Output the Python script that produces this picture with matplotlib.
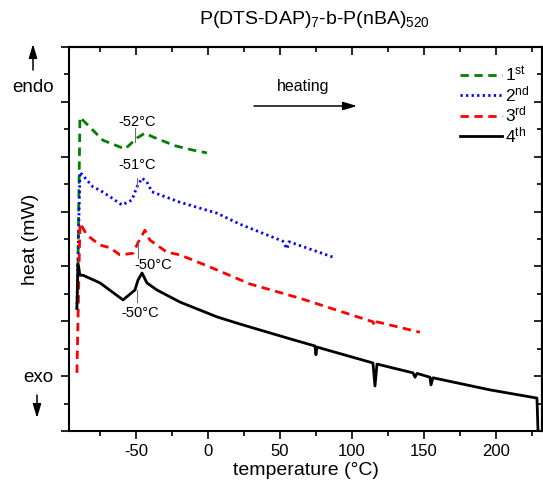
import matplotlib
matplotlib.use("Agg")
import matplotlib.pyplot as plt
from matplotlib.ticker import MultipleLocator, NullFormatter

plt.rcParams['font.family'] = ['Liberation Sans', 'DejaVu Sans']
plt.rcParams['mathtext.fontset'] = 'custom'
plt.rcParams['mathtext.rm'] = 'Liberation Sans'
plt.rcParams['mathtext.it'] = 'Liberation Sans:italic'
plt.rcParams['axes.unicode_minus'] = False

# DSC heating runs: temperature (°C) vs. heat flow (arbitrary offset units)
t1 = [-90.3, -88.9, -72.9, -57.6, -49.3, -43.8, -38.2, -22.9, -10.4, -0.7]
h1 = [2.99, 5.72, 5.30, 5.14, 5.34, 5.43, 5.36, 5.20, 5.12, 5.07]

t2 = [-91.0, -88.9, -79.9, -75.0, -68.0, -59.7, -52.8, -49.3, -45.8, -42.4,
      -38.9, -19.4, 6.3, 22.2, 52.0, 54.9, 56.3, 86.8]
h2 = [2.21, 4.72, 4.45, 4.39, 4.27, 4.12, 4.21, 4.45, 4.61, 4.54,
      4.36, 4.17, 3.97, 3.77, 3.46, 3.32, 3.45, 3.17]

t3 = [-91.0, -88.9, -84.0, -75.0, -68.0, -61.1, -52.1, -48.6, -43.8, -40.3,
      -28.5, -19.4, 1.4, 29.2, 63.9, 114.6, 116.0, 117.4, 147.2]
h3 = [1.06, 3.79, 3.57, 3.39, 3.34, 3.21, 3.24, 3.43, 3.66, 3.48,
      3.26, 3.21, 2.99, 2.68, 2.42, 1.99, 1.91, 1.99, 1.80]

t4 = [-91.0, -90.3, -88.9, -86.8, -75.0, -59.0, -50.7, -48.6, -45.8, -42.4,
      -35.4, -19.4, 6.3, 22.2, 57.0, 74.3, 75.0, 75.7, 114.6, 116.0, 117.4,
      142.4, 143.8, 145.2, 154.2, 154.9, 156.3, 195.8, 228.5, 229.2]
h4 = [2.24, 3.03, 2.84, 2.84, 2.70, 2.39, 2.57, 2.75, 2.88, 2.70,
      2.57, 2.35, 2.08, 1.95, 1.68, 1.55, 1.39, 1.53, 1.24, 0.82, 1.22,
      1.06, 0.98, 1.05, 0.98, 0.84, 0.97, 0.75, 0.60, 0.02]

run_labels = [r'1$^{\mathrm{st}}$', r'2$^{\mathrm{nd}}$', r'3$^{\mathrm{rd}}$', r'4$^{\mathrm{th}}$']

# Glass transition marks: label, marker x, marker y range, text position
tg_labels = ['-52°C', '-51°C', '-50°C', '-50°C']
tg_x = [-50.7, -49.3, -48.6, -49.3]
tg_y0 = [5.27, 4.45, 3.15, 2.35]
tg_y1 = [5.52, 4.61, 3.45, 2.57]
tg_tx = [-49.3, -49.5, -38.2, -47.2]
tg_ty = [5.63, 4.85, 3.03, 2.15]

fig = plt.figure(figsize=(5.43, 4.91), dpi=100)
ax = fig.add_axes([69 / 543, 1 - 431 / 491, 473 / 543, 384 / 491])

lw = 2.0
ax.plot(t1, h1, color='#008000', lw=lw, dashes=(3, 2), label=run_labels[0])
ax.plot(t2, h2, color='#0000ff', lw=lw, dashes=(0.8, 1.2), label=run_labels[1])
ax.plot(t3, h3, color='#ff0000', lw=lw, dashes=(3, 2), label=run_labels[2])
ax.plot(t4, h4, color='black', lw=lw, label=run_labels[3])

for lab, x, y0, y1, tx, ty in zip(tg_labels, tg_x, tg_y0, tg_y1, tg_tx, tg_ty):
    ax.plot([x, x], [y0, y1], color='#707070', lw=0.8)
    ax.text(tx, ty, lab, fontsize=10.5, ha='center', va='center')

ax.set_xlim(-96.5, 232)
ax.set_ylim(0, 7)

ax.xaxis.set_major_locator(MultipleLocator(50))
ax.xaxis.set_minor_locator(MultipleLocator(25))
ax.yaxis.set_major_locator(MultipleLocator(1))
ax.yaxis.set_minor_locator(MultipleLocator(0.5))
ax.yaxis.set_major_formatter(NullFormatter())

ax.tick_params(which='major', direction='out', length=6, width=1.2, labelsize=12)
ax.tick_params(which='minor', direction='out', length=3.5, width=1.2)
for s in ax.spines.values():
    s.set_linewidth(1.5)

# Mirrored inward ticks on top and right
top = ax.secondary_xaxis('top')
top.xaxis.set_major_locator(MultipleLocator(50))
top.xaxis.set_minor_locator(MultipleLocator(25))
top.xaxis.set_major_formatter(NullFormatter())
top.tick_params(which='major', direction='in', length=6, width=1.2)
top.tick_params(which='minor', direction='in', length=3.5, width=1.2)
right = ax.secondary_yaxis('right')
right.yaxis.set_major_locator(MultipleLocator(1))
right.yaxis.set_minor_locator(MultipleLocator(0.5))
right.yaxis.set_major_formatter(NullFormatter())
right.tick_params(which='major', direction='in', length=6, width=1.2)
right.tick_params(which='minor', direction='in', length=3.5, width=1.2)
for sec in (top, right):
    for s in sec.spines.values():
        s.set_linewidth(1.5)

ax.set_xlabel('temperature (°C)', fontsize=14, labelpad=2)
ax.set_ylabel('heat (mW)', fontsize=14, labelpad=12)
fig.text(0.58, 1 - 19 / 491, r'P(DTS-DAP)$_7$-b-P(nBA)$_{520}$', fontsize=14,
         ha='center', va='center')

leg = ax.legend(loc='upper left', bbox_to_anchor=(0.813, 0.972), frameon=False,
                fontsize=12.5, handlelength=2.4, handletextpad=0.15,
                labelspacing=0.02, borderaxespad=0)

# endo / exo markers and heating direction
fig.text(33 / 543, 1 - 88 / 491, 'endo', fontsize=13.5, ha='center', va='center')
fig.text(38 / 543, 1 - 377 / 491, 'exo', fontsize=13.5, ha='center', va='center')
astyle = dict(arrowstyle='-|>,head_length=0.6,head_width=0.18', color='black', lw=1.1,
              shrinkA=0, shrinkB=0)
fig.add_artist(matplotlib.patches.FancyArrowPatch((33 / 543, 1 - 70 / 491), (33 / 543, 1 - 44 / 491),
               transform=fig.transFigure, mutation_scale=14, **astyle))
fig.add_artist(matplotlib.patches.FancyArrowPatch((37 / 543, 1 - 395 / 491), (37 / 543, 1 - 418 / 491),
               transform=fig.transFigure, mutation_scale=14, **astyle))
fig.add_artist(matplotlib.patches.FancyArrowPatch((254 / 543, 1 - 106 / 491), (357 / 543, 1 - 106 / 491),
               transform=fig.transFigure, mutation_scale=14, **astyle))
fig.text(303 / 543, 1 - 87 / 491, 'heating', fontsize=11.5, ha='center', va='center')

fig.savefig('out.png', dpi=100, facecolor='white')
